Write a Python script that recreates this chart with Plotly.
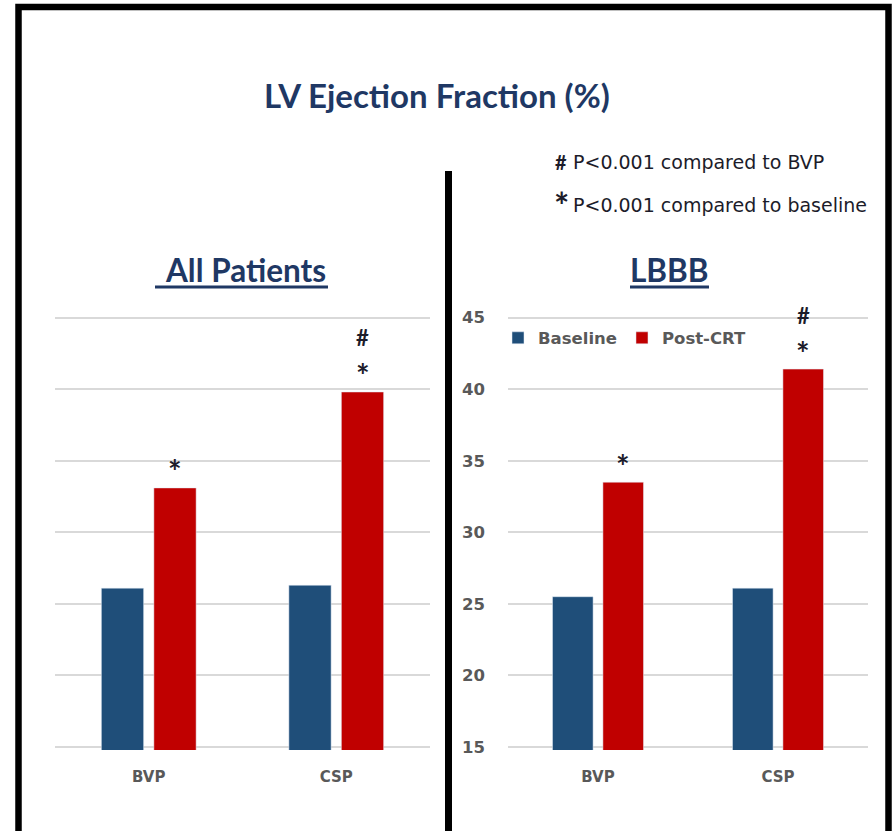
import plotly.graph_objects as go

# ---- data -------------------------------------------------------------
groups = ["BVP", "CSP"]
series_names = ["Baseline", "Post-CRT"]

all_baseline = [26.1, 26.3]
all_post = [33.1, 39.8]
lbbb_baseline = [25.5, 26.1]
lbbb_post = [33.5, 41.4]

y_ticks = [15, 20, 25, 30, 35, 40, 45]
y_tick_labels = ["15", "20", "25", "30", "35", "40", "45"]

# significance marks drawn above the Post-CRT bars, one list per group
all_marks = [["*"], ["*", "#"]]
lbbb_marks = [["*"], ["*", "#"]]

title_text = "LV Ejection Fraction (%)"
panel_titles = ["All Patients", "LBBB"]
note_lines = [("#", "P&lt;0.001 compared to BVP"), ("*", "P&lt;0.001 compared to baseline")]

# ---- styling ----------------------------------------------------------
W, H = 892, 831
BLUE = "#1F4E79"
RED = "#C00000"
NAVY = "#1F3864"
GREY = "#595959"
GRID = "#D9D9D9"
INK = "#1c1c2a"
FONT = "Lato"
WIDE = "DejaVu Sans"

# vertical page scale/offset of the rendered page
VS, VO = 0.981, 8.5


def fx(x):
    return x / W


def fy(y):
    return 1 - ((y - VO) / VS) / H


# plot-area geometry: value 45 at y=318, value 15 at y=747
top_px, bot_px = 319.0, 747.0
ppu = (bot_px - top_px) / 30.0
pad = 0.2
y_range = [15 - pad, 45 + pad]
y_domain = [fy(bot_px + pad * ppu), fy(top_px - pad * ppu)]

BARGAP, GROUPGAP = 0.44, 0.195

fig = go.Figure()

fig.add_trace(go.Bar(x=groups, y=all_baseline, name=series_names[0], marker_color=BLUE,
                     xaxis="x", yaxis="y", showlegend=False))
fig.add_trace(go.Bar(x=groups, y=all_post, name=series_names[1], marker_color=RED,
                     xaxis="x", yaxis="y", showlegend=False))
fig.add_trace(go.Bar(x=groups, y=lbbb_baseline, name=series_names[0], marker_color=BLUE,
                     xaxis="x2", yaxis="y2"))
fig.add_trace(go.Bar(x=groups, y=lbbb_post, name=series_names[1], marker_color=RED,
                     xaxis="x2", yaxis="y2"))

xaxis_common = dict(
    type="category", showgrid=False, zeroline=False, showline=False, ticks="",
    tickfont=dict(family=WIDE, size=15, color=GREY, weight="bold"),
    ticklabelstandoff=16, fixedrange=True,
)
yaxis_common = dict(
    range=y_range, domain=y_domain, tickvals=y_ticks, ticktext=y_tick_labels,
    showgrid=True, gridcolor=GRID, gridwidth=1.5, zeroline=False, showline=False,
    ticks="", fixedrange=True,
)

fig.update_layout(
    width=W, height=H, autosize=False,
    margin=dict(l=0, r=0, t=0, b=0),
    paper_bgcolor="white", plot_bgcolor="white",
    barmode="group", bargap=BARGAP, bargroupgap=GROUPGAP,
    xaxis=dict(domain=[fx(55), fx(430)], anchor="y", **xaxis_common),
    yaxis=dict(anchor="x", showticklabels=False, **yaxis_common),
    xaxis2=dict(domain=[fx(508), fx(868)], anchor="y2", **xaxis_common),
    yaxis2=dict(anchor="x2", showticklabels=True,
                tickfont=dict(family=WIDE, size=16.5, color=GREY, weight="bold"),
                ticklabelstandoff=22, **yaxis_common),
    legend=dict(
        orientation="h", x=fx(498), y=fy(322), xanchor="left", yanchor="top",
        font=dict(family=WIDE, size=16.5, color=GREY, weight="bold"),
        bgcolor="rgba(0,0,0,0)", itemclick=False, itemdoubleclick=False,
        traceorder="normal",
    ),
    showlegend=True,
)

annotations = []

# main title
annotations.append(dict(
    text=f"<b>{title_text}</b>", x=fx(437), y=fy(97), xref="paper", yref="paper",
    xanchor="center", yanchor="middle", showarrow=False,
    font=dict(family=FONT, size=33, color=NAVY),
))

# panel titles
for txt, cx in zip(panel_titles, [245, 669]):
    annotations.append(dict(
        text=f"<b>{txt}</b>", x=fx(cx), y=fy(272), xref="paper", yref="paper",
        xanchor="center", yanchor="middle", showarrow=False,
        font=dict(family=FONT, size=31.5, color=NAVY),
    ))

# significance notes
for (sym, txt), cy, sy, ssize in zip(note_lines, [164, 207], [164, 207], [20, 36]):
    annotations.append(dict(
        text=f"<b>{sym}</b>", x=fx(561), y=fy(sy), xref="paper", yref="paper",
        xanchor="center", yanchor="middle", showarrow=False,
        font=dict(family=FONT, size=ssize, color=INK),
    ))
    annotations.append(dict(
        text=txt, x=fx(571), y=fy(cy), xref="paper", yref="paper",
        xanchor="left", yanchor="middle", showarrow=False,
        font=dict(family=WIDE, size=19, color=INK),
    ))

# marks above Post-CRT bars
post_offset = (1 - BARGAP) / 4.0
mark_shift = {"*": 16, "#": 54}
mark_size = {"*": 32, "#": 22}
for xref_, yref_, values, marks in [("x", "y", all_post, all_marks),
                                    ("x2", "y2", lbbb_post, lbbb_marks)]:
    for i, (v, ms) in enumerate(zip(values, marks)):
        for m in ms:
            annotations.append(dict(
                text=f"<b>{m}</b>", x=i + post_offset, y=v, xref=xref_, yref=yref_,
                xanchor="center", yanchor="middle", yshift=mark_shift[m],
                showarrow=False, font=dict(family=FONT, size=mark_size[m], color=INK),
            ))

fig.update_layout(annotations=annotations)

shapes = [
    # outer frame
    dict(type="rect", xref="paper", yref="paper",
         x0=fx(18.5), x1=fx(888.5), y0=fy(9.5), y1=fy(870),
         line=dict(color="black", width=6.5), fillcolor="rgba(0,0,0,0)", layer="above"),
    # divider between the panels
    dict(type="line", xref="paper", yref="paper",
         x0=fx(448.5), x1=fx(448.5), y0=fy(173), y1=fy(870),
         line=dict(color="black", width=7)),
    # underlines of the panel titles
    dict(type="line", xref="paper", yref="paper",
         x0=fx(155), x1=fx(328), y0=fy(288.5), y1=fy(288.5),
         line=dict(color=NAVY, width=3)),
    dict(type="line", xref="paper", yref="paper",
         x0=fx(630), x1=fx(709), y0=fy(288.5), y1=fy(288.5),
         line=dict(color=NAVY, width=3)),
]
fig.update_layout(shapes=shapes)

fig.write_html("out.html", config={"displayModeBar": False})
